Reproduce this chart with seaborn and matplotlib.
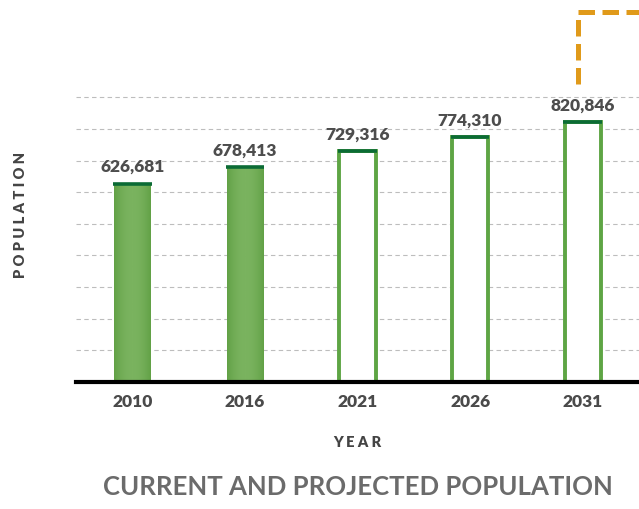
import matplotlib
matplotlib.use("Agg")
import matplotlib.pyplot as plt
from matplotlib.lines import Line2D
import numpy as np
import pandas as pd
import seaborn as sns

# Population figures: census years and projections
years = ["2010", "2016", "2021", "2026", "2031"]
population = [626681, 678413, 729316, 774310, 820846]
status = ["Current", "Current", "Projected", "Projected", "Projected"]

df = pd.DataFrame({"year": years, "population": population, "status": status})

sns.set_theme(style="white")
plt.rcParams["font.family"] = ["Lato", "DejaVu Sans"]

W, H = 639, 510
fig = plt.figure(figsize=(W / 100, H / 100), dpi=100)
ax_left, ax_right = 76, 639
ax_bottom_px, ax_top_px = 382.7, 66.7
ax = fig.add_axes([ax_left / W, 1 - ax_bottom_px / H,
                   (ax_right - ax_left) / W, (ax_bottom_px - ax_top_px) / H])

bar_w = 0.32
fill_green = "#6aa84f"
edge_green = "#5ea544"
cap_green = "#0b6b35"

sns.barplot(data=df, x="year", y="population", hue="status",
            palette={"Current": fill_green, "Projected": "white"},
            dodge=False, width=bar_w, legend=False, ax=ax, zorder=3)

# Solid bars get a soft horizontal gradient, projected bars are outlined
grad = np.linspace(0, 1, 64)
grad = 1 - (2 * grad - 1) ** 2
cmap = matplotlib.colors.LinearSegmentedColormap.from_list(
    "bar", ["#62a146", "#7ab35f"])
for patch, st in zip(ax.patches, status):
    if st == "Projected":
        patch.set_facecolor("white")
        patch.set_edgecolor(edge_green)
        patch.set_linewidth(2.8)
    else:
        patch.set_linewidth(0)
        x0, y0 = patch.get_x(), patch.get_y()
        im = ax.imshow(grad[np.newaxis, :], cmap=cmap, aspect="auto",
                       extent=[x0, x0 + patch.get_width(), y0, y0 + patch.get_height()],
                       zorder=3.5)
        im.set_clip_path(patch)

# Dark cap on top of every bar and value label above it
xs = np.arange(len(years))
ax.hlines(population, xs - bar_w / 2 - 0.012, xs + bar_w / 2 + 0.012,
          colors=cap_green, linewidth=2.6, zorder=5)
for x, v in zip(xs, population):
    ax.annotate(f"{v:,}", (x, v), xytext=(0, 9), textcoords="offset points",
                ha="center", va="baseline", fontsize=12.5, fontweight="heavy",
                color="#4d4d4d", zorder=6)

ax.set_xlim(-0.5, len(years) - 0.5)
ax.set_ylim(0, 1_000_000)
ax.set_yticks(range(0, 1_000_000, 100_000))
ax.yaxis.grid(True, color="#bdbdbd", linestyle=(0, (4, 3)), linewidth=0.8, zorder=0)
ax.set_axisbelow(True)
ax.tick_params(axis="y", left=False, labelleft=False)
ax.tick_params(axis="x", length=0, pad=8, labelsize=12.5, labelcolor="#4a4a4a")
for lbl in ax.get_xticklabels():
    lbl.set_fontweight("heavy")

for side in ["top", "right", "left"]:
    ax.spines[side].set_visible(False)
ax.spines["bottom"].set_color("black")
ax.spines["bottom"].set_linewidth(3)
ax.spines["bottom"].set_zorder(6)

ax.set_xlabel("Y E A R", fontsize=10.5, fontweight="heavy", color="#444444", labelpad=19)
ax.set_ylabel("P O P U L A T I O N", fontsize=10.5, fontweight="heavy", color="#444444")
ax.yaxis.set_label_coords((27 - ax_left) / (ax_right - ax_left),
                          (ax_bottom_px - 215) / (ax_bottom_px - ax_top_px))

fig.text((ax_left + ax_right) / 2 / W, 1 - 487 / H, "CURRENT AND PROJECTED POPULATION",
         ha="center", va="center", fontsize=18.5, fontweight="bold", color="#6b6b6b")

# Dashed orange corner marker in the top-right
corner = Line2D([578 / W, 578 / W, 1.0], [1 - 85 / H, 1 - 13 / H, 1 - 13 / H],
                transform=fig.transFigure, color="#e09a1a", linewidth=3.6,
                linestyle=(0, (3.3, 1.5)), solid_capstyle="butt", dash_capstyle="butt")
fig.add_artist(corner)

fig.savefig("out.png", dpi=100)
